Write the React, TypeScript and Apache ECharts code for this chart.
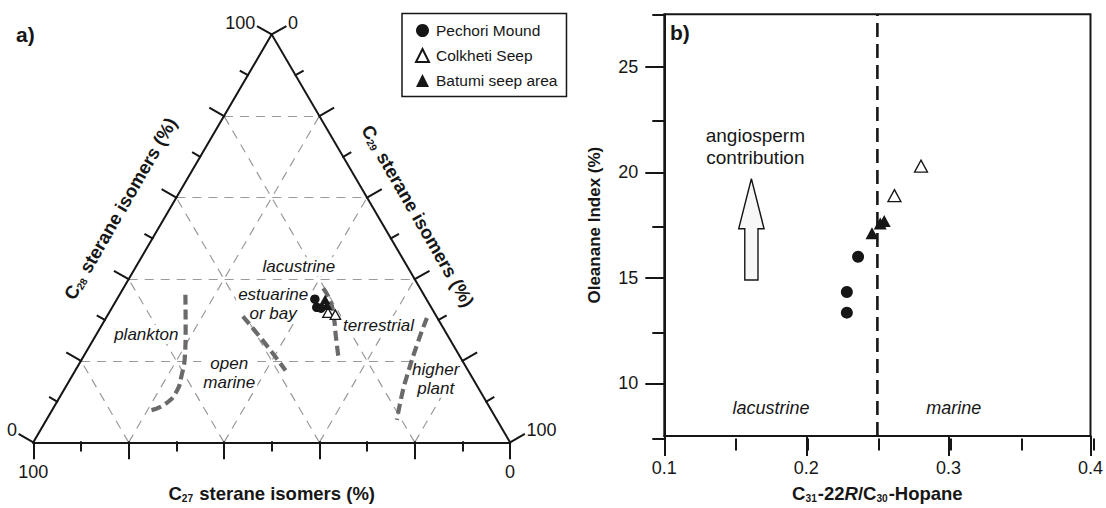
import React, { useEffect, useRef } from "react";
import * as echarts from "echarts";

// ---------- a) ternary sterane composition, each row = [C27, C28, C29] % ----------
const pechoriSteranes: number[][] = [
  [23.4, 35.1, 41.5],
  [24.0, 33.1, 42.9],
  [23.2, 32.9, 43.9],
];
const colkhetiSteranes: number[][] = [
  [22.3, 31.8, 45.9],
  [21.0, 31.3, 47.7],
];
const batumiSteranes: number[][] = [
  [21.3, 35.0, 43.7],
  [21.6, 33.6, 44.8],
];

// source-field boundaries, [C27, C28, C29] %
const planktonBoundary: number[][] = [
  [50.0, 36.2, 13.8], [54.2, 27.7, 18.1], [57.6, 21.2, 21.2], [60.7, 16.4, 22.9],
  [63.6, 12.6, 23.8], [67.6, 9.4, 23.0], [71.3, 7.9, 20.8],
];
const openMarineBoundary: number[][] = [
  [40.6, 30.9, 28.5], [39.3, 24.5, 36.2], [38.3, 17.6, 44.1],
];
const terrestrialBoundary: number[][] = [
  [20.3, 37.8, 41.9], [20.4, 34.6, 45.0], [21.7, 30.5, 47.8], [23.5, 26.1, 50.4], [25.6, 20.8, 53.6],
];
const higherPlantBoundary: number[][] = [
  [2.2, 30.5, 67.3], [7.1, 24.5, 68.4], [13.4, 16.4, 70.2], [16.9, 11.6, 71.5], [21.0, 5.5, 73.5],
];

const ternaryTicks = [0, 10, 20, 30, 40, 50, 60, 70, 80, 90, 100];
const ternaryGridValues = [20, 40, 60, 80];

// ---------- b) oleanane index vs. C31-22R / C30 hopane ----------
const pechoriHopane = [0.2364, 0.2285, 0.2285];
const pechoriOleanane = [16.0, 14.33, 13.35];
const colkhetiHopane = [0.2807, 0.262];
const colkhetiOleanane = [20.3, 18.9];
const batumiHopane = [0.2462, 0.252, 0.2548];
const batumiOleanane = [17.12, 17.58, 17.7];

const marineThreshold = 0.25;
const hopaneMajorTicks = [0.1, 0.2, 0.3, 0.4];
const oleananeMajorTicks = [10, 15, 20, 25];
const oleananeMinorTicks = [7.5, 12.5, 17.5, 22.5, 27.5];

const seriesNames = ["Pechori Mound", "Colkheti Seep", "Batumi seep area"];

// ---------- styling / layout ----------
const FONT = "'Liberation Sans', Arial, Helvetica, sans-serif";
const INK = "#161616";
const UNIT = 4.768; // px per triangle unit
const PAD = 6; // margin (triangle units) around the triangle so outer ticks and labels are not clipped
const TRI = {
  left: 33.3 - PAD * UNIT,
  top: 34.8 - PAD * UNIT,
  width: 476.8 + 2 * PAD * UNIT,
  height: 412.9 + 2 * PAD * UNIT,
};
const PLOT = { left: 664.3, top: 14.3, width: 429, height: 424.2 };
const TRI_MAJOR = 3.36;
const TRI_MINOR = 1.74;

const SQ = Math.sqrt(3) / 2;
// C28 at the apex, C29 at the lower right, C27 at the lower left
const pt = (c28: number, c29: number) => [c29 + c28 / 2, c28 * SQ];
const toXY = (c: number[]) => pt(c[1], c[2]);

const fieldLabels = [
  { text: "lacustrine", at: [55.7, 37.3] },
  { text: "estuarine\nor bay", at: [50.3, 29.4] },
  { text: "plankton", at: [23.7, 22.9] },
  { text: "terrestrial", at: [72.4, 24.8] },
  { text: "open\nmarine", at: [41.1, 14.7] },
  { text: "higher\nplant", at: [84.4, 13.5] },
];

const zoneLabels = [
  { text: "lacustrine", at: [0.1751, 8.82] },
  { text: "marine", at: [0.3038, 8.82] },
];
const angiospermNote = { text: "angiosperm\ncontribution", at: [0.1641, 21.25] };
const angiospermArrow = [[0.1613, 14.9, 19.7]];

function buildOption(): any {
  const gridSegs: any[] = [];
  for (const v of ternaryGridValues) {
    gridSegs.push({ coords: [pt(v, 0), pt(v, 100 - v)] });
    gridSegs.push({ coords: [pt(0, v), pt(100 - v, v)] });
    gridSegs.push({ coords: [pt(0, 100 - v), pt(100 - v, 0)] });
  }

  const frameSegs: any[] = [
    { coords: [pt(0, 0), pt(100, 0)] },
    { coords: [pt(100, 0), pt(0, 100)] },
    { coords: [pt(0, 100), pt(0, 0)] },
  ];
  const addTick = (p: number[], d: number[], len: number) =>
    frameSegs.push({ coords: [p, [p[0] + d[0] * len, p[1] + d[1] * len]] });
  for (const v of ternaryTicks) {
    const len = v % 20 === 0 ? TRI_MAJOR : TRI_MINOR;
    addTick(pt(0, v), [0, -1], len);
    addTick(pt(v, 0), [-SQ, 0.5], len);
    addTick(pt(100 - v, v), [SQ, 0.5], len);
  }

  const end = (p: number[], d: number[]) => [p[0] + d[0] * TRI_MAJOR, p[1] + d[1] * TRI_MAJOR];
  const cornerLabels = [
    { p: end(pt(0, 0), [-SQ, 0.5]), text: "0", pos: "left" },
    { p: end(pt(100, 0), [-SQ, 0.5]), text: "100", pos: "left" },
    { p: end(pt(100, 0), [SQ, 0.5]), text: "0", pos: "right" },
    { p: end(pt(0, 100), [SQ, 0.5]), text: "100", pos: "right" },
    { p: end(pt(0, 0), [0, -1]), text: "100", pos: "bottom" },
    { p: end(pt(0, 100), [0, -1]), text: "0", pos: "bottom" },
  ];

  const subRich = (size: number) => ({
    s: { fontSize: size * 0.55, fontWeight: "bold", fontFamily: FONT, color: INK, verticalAlign: "bottom", padding: [0, 1, 0, 0] },
    i: { fontSize: size, fontWeight: "bold", fontStyle: "italic", fontFamily: FONT, color: INK },
    t: { fontSize: size, fontWeight: "bold", fontFamily: FONT, color: INK },
  });

  // side titles: edge midpoint, pushed outward along the normal and slightly up along the edge
  const leftTitle = [25 - 9.0 * SQ + 2.1 * 0.5, 50 * SQ + 9.0 * 0.5 + 2.1 * SQ];
  const rightTitle = [75 + 7.3 * SQ - 1.3 * 0.5, 50 * SQ + 7.3 * 0.5 + 1.3 * SQ];

  // anchors for text only: the marker itself stays invisible
  const invisible = { color: "rgba(0,0,0,0)", borderWidth: 0, opacity: 1 };

  const zip = (xs: number[], ys: number[]) => xs.map((x, i) => [x, ys[i]]);

  const circleStyle = { color: INK, opacity: 1 };
  const openTri = { color: "#ffffff", borderColor: INK, borderWidth: 1.3, opacity: 1 };
  const filledTri = { color: INK, opacity: 1 };

  return {
    animation: false,
    backgroundColor: "#ffffff",
    textStyle: { fontFamily: FONT, color: INK },
    legend: {
      data: seriesNames,
      orient: "vertical",
      left: 402,
      top: 13.5,
      itemWidth: 13,
      itemHeight: 13,
      itemGap: 9,
      padding: [9, 9, 8, 13],
      borderColor: INK,
      borderWidth: 1.5,
      backgroundColor: "#ffffff",
      selectedMode: false,
      textStyle: { fontSize: 15.5, color: INK, fontFamily: FONT, lineHeight: 16, padding: [0, 0, 0, 2] },
      z: 20,
    },
    graphic: [
      { type: "text", left: 16, top: 23.5, style: { text: "a)", font: `bold 21px ${FONT}`, fill: INK } },
      { type: "text", left: 670, top: 22, style: { text: "b)", font: `bold 21px ${FONT}`, fill: INK } },
    ],
    grid: [
      { ...TRI, show: false },
      { ...PLOT, show: true, borderColor: INK, borderWidth: 2, backgroundColor: "transparent" },
      { ...PLOT, show: false },
    ],
    xAxis: [
      {
        gridIndex: 0, type: "value", min: -PAD, max: 100 + PAD,
        axisLine: { show: false }, axisTick: { show: false }, axisLabel: { show: false }, splitLine: { show: false },
        name: "{t|C}{s|27}{t| sterane isomers (%)}", nameLocation: "middle", nameGap: 42 - PAD * UNIT,
        nameTextStyle: { rich: subRich(18.5) },
      },
      {
        gridIndex: 1, type: "value", min: 0.1, max: 0.4, interval: 0.1,
        axisLine: { show: true, lineStyle: { color: INK, width: 2 } },
        axisTick: { show: true, length: 20, lineStyle: { color: INK, width: 2 } },
        axisLabel: { fontSize: 18, color: INK, margin: 23, fontFamily: FONT, formatter: (v: number) => v.toFixed(1), customValues: hopaneMajorTicks },
        splitLine: { show: false },
        name: "{t|C}{s|31}{t|-22}{i|R}{t|/C}{s|30}{t|-Hopane}", nameLocation: "middle", nameGap: 48,
        nameTextStyle: { rich: subRich(18.5) },
      },
      {
        gridIndex: 2, type: "value", min: 0.1, max: 0.4, interval: 0.05,
        axisLine: { show: false }, axisLabel: { show: false }, splitLine: { show: false },
        axisTick: { show: true, length: 12, lineStyle: { color: INK, width: 2 } },
      },
    ],
    yAxis: [
      { gridIndex: 0, type: "value", min: -PAD, max: 100 * SQ + PAD, show: false },
      {
        gridIndex: 1, type: "value", min: 7.5, max: 27.5,
        axisLine: { show: true, lineStyle: { color: INK, width: 2 } },
        axisTick: { show: true, length: 19, lineStyle: { color: INK, width: 2 }, customValues: oleananeMajorTicks },
        axisLabel: { fontSize: 18, color: INK, margin: 26, fontFamily: FONT, customValues: oleananeMajorTicks },
        splitLine: { show: false },
        name: "Oleanane Index (%)", nameLocation: "middle", nameGap: 61, nameRotate: 90,
        nameTextStyle: { fontSize: 17, fontWeight: "bold", color: INK, fontFamily: FONT },
      },
      {
        gridIndex: 2, type: "value", min: 7.5, max: 27.5,
        axisLine: { show: false }, axisLabel: { show: false }, splitLine: { show: false },
        axisTick: { show: true, length: 12, lineStyle: { color: INK, width: 2 }, customValues: oleananeMinorTicks },
      },
    ],
    series: [
      // ---------- ternary frame ----------
      {
        type: "lines", coordinateSystem: "cartesian2d", xAxisIndex: 0, yAxisIndex: 0, silent: true, z: 1,
        data: gridSegs,
        lineStyle: { color: "#9a9a9a", width: 1.2, type: [9, 7], opacity: 1, curveness: 0 },
      },
      {
        type: "scatter", xAxisIndex: 0, yAxisIndex: 0, silent: true, z: 2, symbolSize: 1, itemStyle: invisible,
        data: fieldLabels.map((f) => ({
          value: f.at,
          label: {
            show: true, position: "inside", formatter: f.text, fontSize: 17, fontStyle: "italic",
            color: INK, fontFamily: FONT, lineHeight: 19, backgroundColor: "#ffffff", padding: [0, 2],
          },
        })),
      },
      {
        type: "lines", coordinateSystem: "cartesian2d", xAxisIndex: 0, yAxisIndex: 0, silent: true, z: 3,
        data: frameSegs,
        lineStyle: { color: INK, width: 2, opacity: 1, curveness: 0, cap: "square" },
      },
      ...[planktonBoundary, openMarineBoundary, terrestrialBoundary, higherPlantBoundary].map((b) => ({
        type: "line", xAxisIndex: 0, yAxisIndex: 0, silent: true, z: 4,
        data: b.map(toXY), smooth: 0.5, symbol: "none",
        lineStyle: { color: "#6a6a6a", width: 4.2, type: [10, 5] },
      })),
      {
        type: "scatter", xAxisIndex: 0, yAxisIndex: 0, silent: true, z: 3, symbolSize: 1, itemStyle: invisible,
        data: cornerLabels.map((c) => ({
          value: c.p,
          label: {
            show: true, position: c.pos, distance: c.pos === "bottom" ? 4 : 2, offset: c.pos === "bottom" ? [0, 0] : [0, -4],
            formatter: c.text, fontSize: 18, color: INK, fontFamily: FONT,
          },
        })),
      },
      {
        type: "scatter", xAxisIndex: 0, yAxisIndex: 0, silent: true, z: 3, symbolSize: 1, itemStyle: invisible,
        data: [
          { value: leftTitle, label: { show: true, position: "inside", rotate: 60, formatter: "{t|C}{s|28}{t| sterane isomers (%)}", rich: subRich(18.5) } },
          { value: rightTitle, label: { show: true, position: "inside", rotate: -60, formatter: "{t|C}{s|29}{t| sterane isomers (%)}", rich: subRich(18.5) } },
        ],
      },
      {
        name: seriesNames[0], type: "scatter", xAxisIndex: 0, yAxisIndex: 0, z: 6,
        symbol: "circle", symbolSize: 9.5, itemStyle: circleStyle, data: pechoriSteranes.map(toXY),
      },
      {
        name: seriesNames[1], type: "scatter", xAxisIndex: 0, yAxisIndex: 0, z: 6,
        symbol: "triangle", symbolSize: [10.5, 9.5], itemStyle: openTri, data: colkhetiSteranes.map(toXY),
      },
      {
        name: seriesNames[2], type: "scatter", xAxisIndex: 0, yAxisIndex: 0, z: 6,
        symbol: "triangle", symbolSize: [10.5, 9.5], itemStyle: filledTri, data: batumiSteranes.map(toXY),
      },

      // ---------- oleanane vs hopane ----------
      {
        type: "line", xAxisIndex: 1, yAxisIndex: 1, silent: true, z: 3, symbol: "none",
        data: [[marineThreshold, 7.5], [marineThreshold, 27.5]],
        lineStyle: { color: INK, width: 2.6, type: [14, 7] },
      },
      {
        type: "custom", xAxisIndex: 1, yAxisIndex: 1, silent: true, z: 3,
        data: angiospermArrow,
        renderItem: (_p: any, api: any) => {
          const base = api.coord([api.value(0), api.value(1)]);
          const tip = api.coord([api.value(0), api.value(2)]);
          const cx = base[0];
          const sw = 6.6, hw = 12.7, hl = 50;
          const hb = tip[1] + hl;
          return {
            type: "polygon",
            shape: { points: [[cx - sw, base[1]], [cx - sw, hb], [cx - hw, hb], [cx, tip[1]], [cx + hw, hb], [cx + sw, hb], [cx + sw, base[1]]] },
            style: { fill: "#f7f7f7", stroke: INK, lineWidth: 1.4 },
          };
        },
      },
      {
        type: "scatter", xAxisIndex: 1, yAxisIndex: 1, silent: true, z: 2, symbolSize: 1, itemStyle: invisible,
        data: [
          ...zoneLabels.map((z) => ({
            value: z.at,
            label: { show: true, position: "inside", formatter: z.text, fontSize: 18, fontStyle: "italic", color: INK, fontFamily: FONT },
          })),
          {
            value: angiospermNote.at,
            label: { show: true, position: "inside", formatter: angiospermNote.text, fontSize: 19, lineHeight: 22, color: INK, fontFamily: FONT },
          },
        ],
      },
      {
        name: seriesNames[0], type: "scatter", xAxisIndex: 1, yAxisIndex: 1, z: 6,
        symbol: "circle", symbolSize: 12, itemStyle: circleStyle, data: zip(pechoriHopane, pechoriOleanane),
      },
      {
        name: seriesNames[1], type: "scatter", xAxisIndex: 1, yAxisIndex: 1, z: 6,
        symbol: "triangle", symbolSize: [13, 12], itemStyle: openTri, data: zip(colkhetiHopane, colkhetiOleanane),
      },
      {
        name: seriesNames[2], type: "scatter", xAxisIndex: 1, yAxisIndex: 1, z: 6,
        symbol: "triangle", symbolSize: [13, 12], itemStyle: filledTri, data: zip(batumiHopane, batumiOleanane),
      },
    ],
  };
}

export default function App() {
  const ref = useRef<HTMLDivElement>(null);
  useEffect(() => {
    if (!ref.current) return;
    const chart = echarts.init(ref.current, null, { renderer: "svg" });
    chart.setOption(buildOption());
    return () => chart.dispose();
  }, []);
  return (
    <div
      ref={ref}
      style={{ position: "absolute", left: 0, top: 0, width: 1106, height: 508, background: "#ffffff" }}
    />
  );
}
